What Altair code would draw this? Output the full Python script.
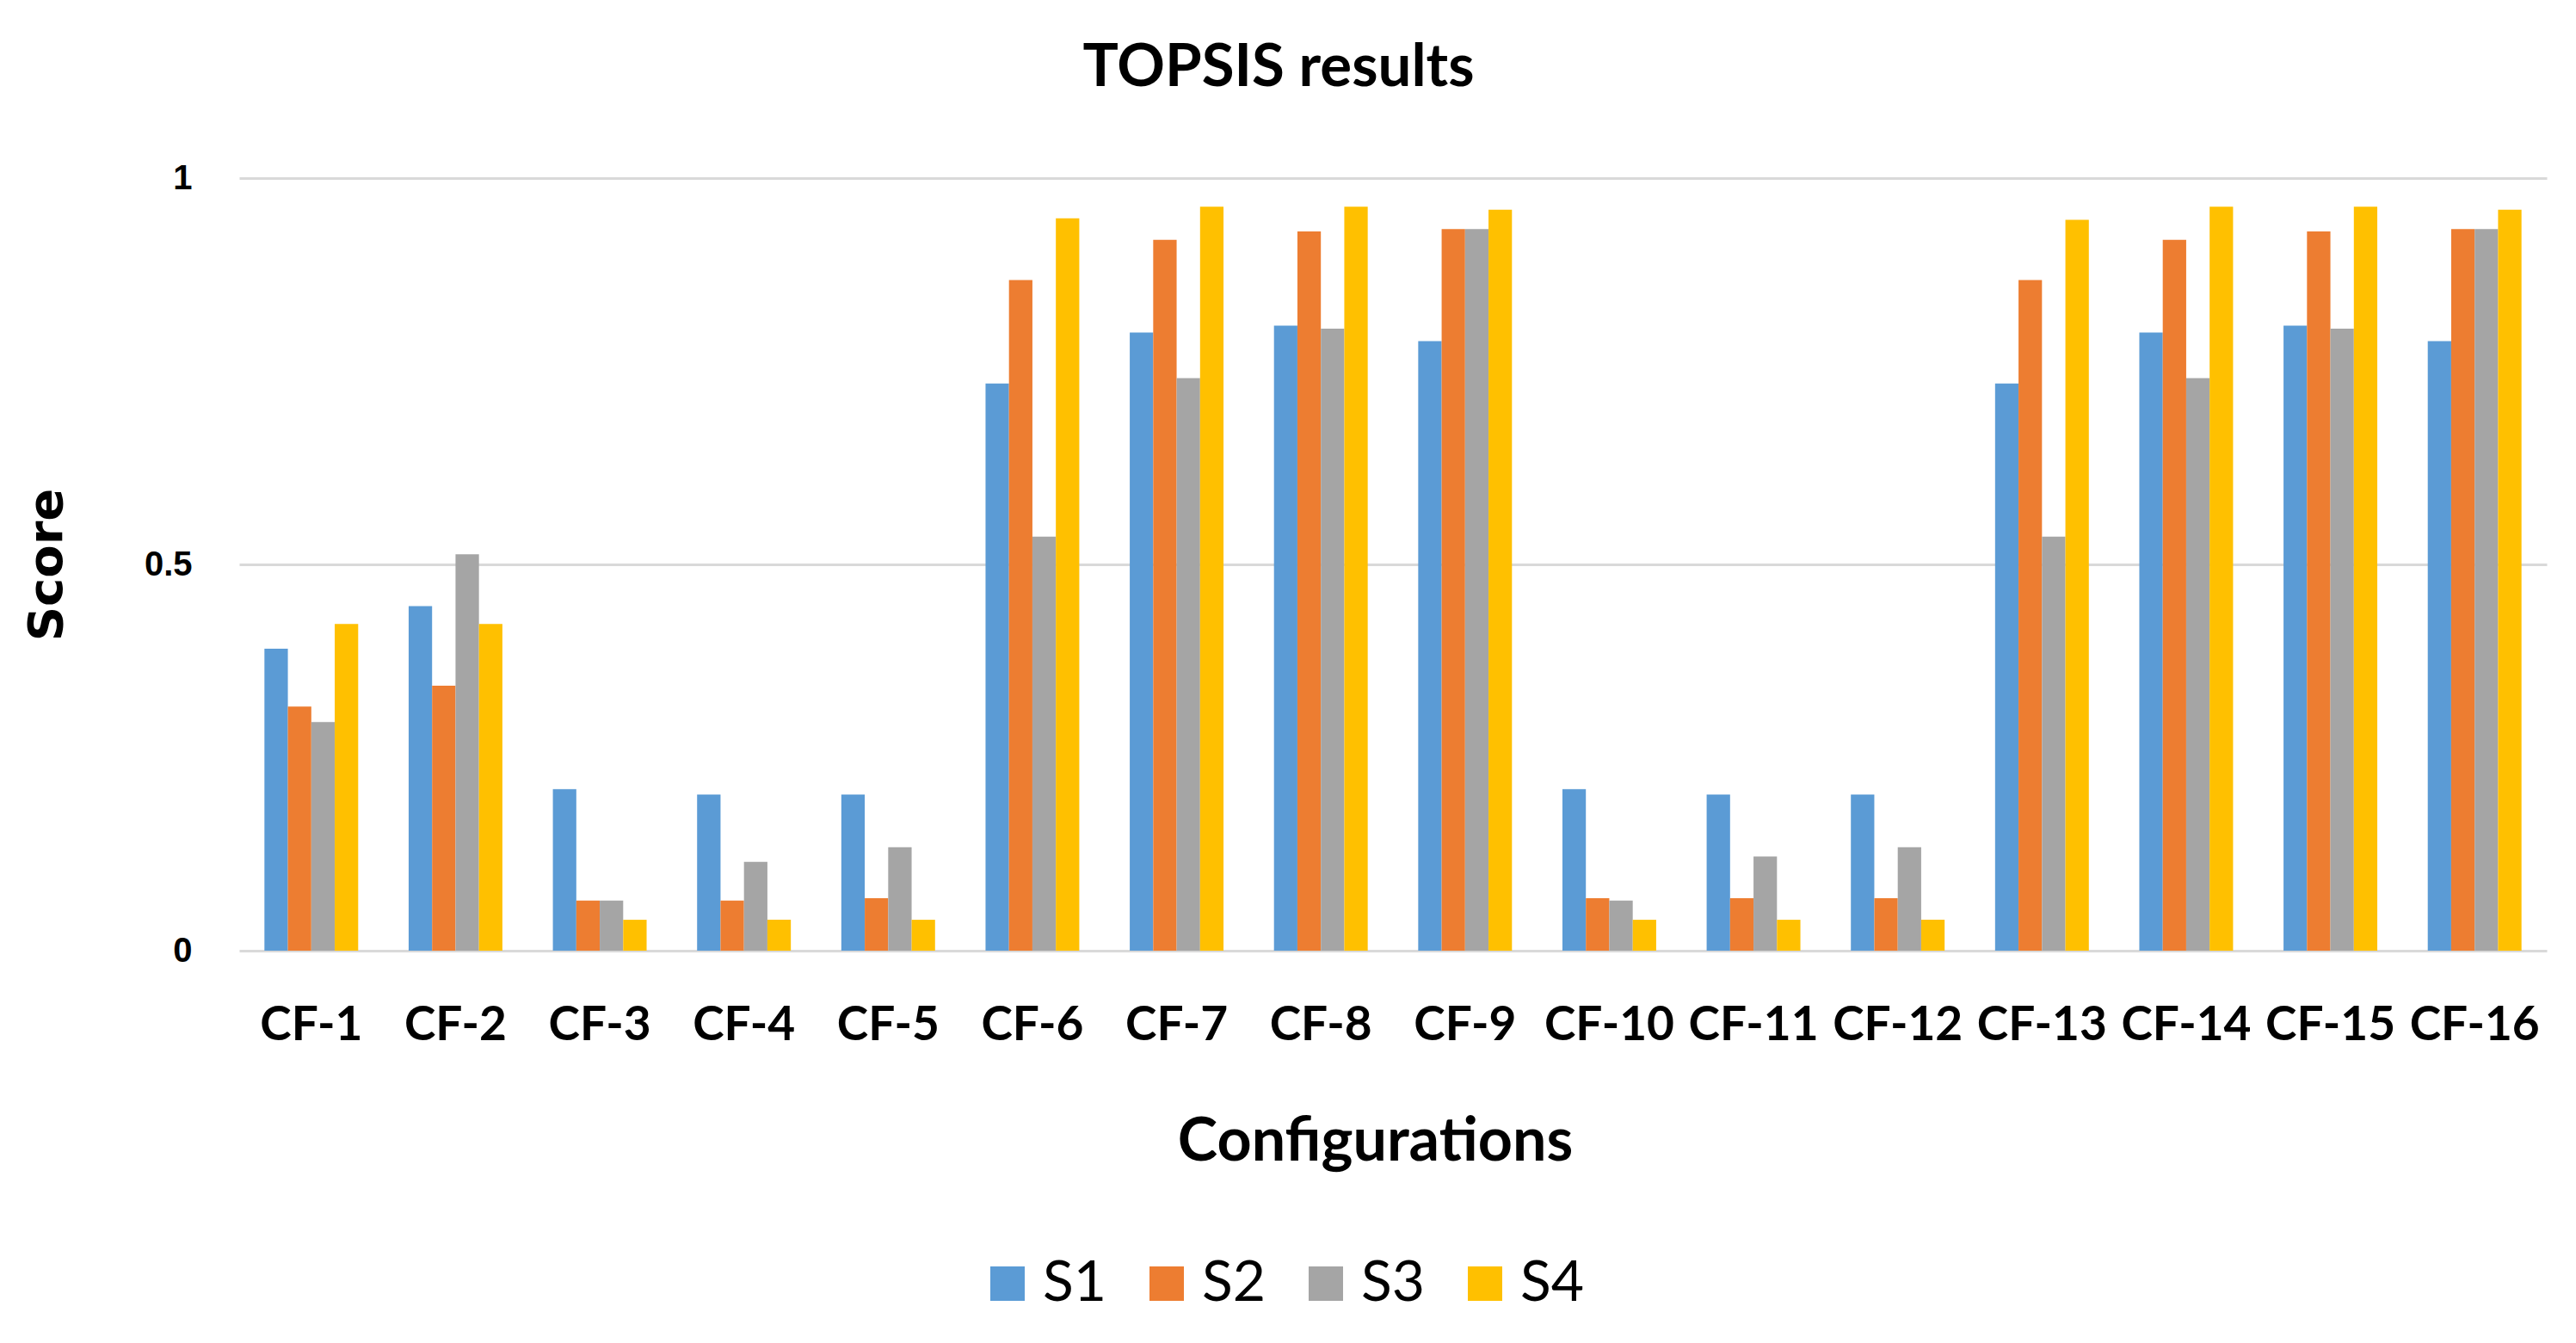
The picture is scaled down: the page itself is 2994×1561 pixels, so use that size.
import altair as alt
import pandas as pd

configs = [f"CF-{i}" for i in range(1, 17)]
series = ["S1", "S2", "S3", "S4"]
s1 = [0.391, 0.446, 0.209, 0.202, 0.202, 0.734, 0.800, 0.809, 0.789, 0.209, 0.202, 0.202, 0.734, 0.800, 0.809, 0.789]
s2 = [0.316, 0.343, 0.065, 0.065, 0.068, 0.868, 0.920, 0.931, 0.934, 0.068, 0.068, 0.068, 0.868, 0.920, 0.931, 0.934]
s3 = [0.296, 0.513, 0.065, 0.115, 0.134, 0.536, 0.741, 0.805, 0.934, 0.065, 0.122, 0.134, 0.536, 0.741, 0.805, 0.934]
s4 = [0.423, 0.423, 0.040, 0.040, 0.040, 0.948, 0.963, 0.963, 0.959, 0.040, 0.040, 0.040, 0.946, 0.963, 0.963, 0.959]
colors = ["#5B9BD5", "#ED7D31", "#A5A5A5", "#FFC000"]

rows = []
for name, vals in zip(series, [s1, s2, s3, s4]):
    for c, v in zip(configs, vals):
        rows.append({"Configuration": c, "Series": name, "Score": v})
df = pd.DataFrame(rows)

PLOT_L, PLOT_T, PLOT_W, PLOT_H = 278, 207, 2682, 898

chart = alt.Chart(df).mark_bar().encode(
    x=alt.X("Configuration:N", sort=configs,
            scale=alt.Scale(paddingInner=0.35, paddingOuter=0.175),
            axis=alt.Axis(title="Configurations", labelAngle=0, domain=False, ticks=False,
                          labelFont="Lato", labelFontSize=55, labelFontWeight="bold",
                          labelColor="#000000", labelPadding=60,
                          titleFont="Lato", titleFontSize=70, titleFontWeight="bold",
                          titleColor="#000000", titleX=1320, titleY=222,
                          titleBaseline="middle", titleAnchor="middle")),
    xOffset=alt.XOffset("Series:N", sort=series, scale=alt.Scale(paddingInner=0, paddingOuter=0)),
    y=alt.Y("Score:Q", scale=alt.Scale(domain=[0, 1], nice=False),
            axis=alt.Axis(title="Score", values=[0, 0.5, 1], format="~g",
                          domain=False, ticks=False, grid=True,
                          gridColor="#D9D9D9", gridWidth=3,
                          labelFont="Liberation Sans", labelFontSize=40, labelFontWeight="bold",
                          labelColor="#000000", labelPadding=55,
                          titleFont="DejaVu Sans", titleFontSize=56, titleFontWeight="bold",
                          titleColor="#000000", titleX=-224, titleY=449, titleAngle=-90,
                          titleBaseline="middle", titleAnchor="middle")),
    color=alt.Color("Series:N", sort=series,
                    scale=alt.Scale(domain=series, range=colors),
                    legend=alt.Legend(title=None, orient="none", direction="horizontal",
                                      legendX=860, legendY=1252, padding=0,
                                      symbolType="square", symbolSize=1600,
                                      symbolStrokeWidth=0, symbolOpacity=1,
                                      labelFont="Lato", labelFontSize=66, labelColor="#000000",
                                      labelOffset=8, columnPadding=36)),
).properties(
    width=PLOT_W, height=PLOT_H,
    title=alt.TitleParams("TOPSIS results", font="Lato", fontSize=69, fontWeight="bold",
                          color="#000000", anchor="middle", dx=-133, offset=73),
    autosize=alt.AutoSizeParams(type="none"),
    padding={"left": PLOT_L - 8, "top": PLOT_T - 8, "right": 26, "bottom": 448},
).configure(background="#FFFFFF", view=alt.ViewConfig(stroke=None))

chart.save("out.html", embed_options={"renderer": "svg", "actions": False})
